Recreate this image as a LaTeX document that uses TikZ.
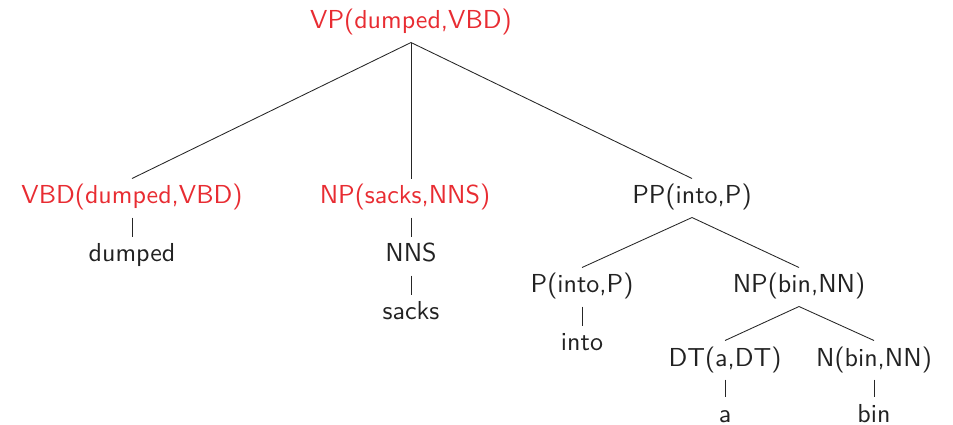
\documentclass[tikz,border=0pt]{standalone}
\definecolor{hd}{RGB}{232,44,50}
\definecolor{tx}{RGB}{34,34,34}
\begin{document}
\begin{tikzpicture}[x=0.3846pt,y=-0.3846pt,
  every node/.style={font=\fontsize{10}{12}\selectfont\sffamily, text=tx, anchor=base,
    text height=7.3pt, text depth=2.7pt, inner sep=2.3pt},
  head/.style={text=hd},
  edge/.style={draw=black!85, line width=0.33pt}]
\useasboundingbox (0,0) rectangle (953,425);
\node[head] (vp) at (411,29) {VP(dumped,VBD)};
\node[head] (vbd) at (132,204) {VBD(dumped,VBD)};
\node[head] (np) at (405,204) {NP(sacks,NNS)};
\node (pp) at (692,204) {PP(into,P)};
\node (dumped) at (132,262) {dumped};
\node (nns) at (411,262) {NNS};
\node (sacks) at (411,320) {sacks};
\node (p) at (582,293) {P(into,P)};
\node (npb) at (799,293) {NP(bin,NN)};
\node (into) at (582,351) {into};
\node (dt) at (725,366) {DT(a,DT)};
\node (n) at (874,366) {N(bin,NN)};
\node (a) at (725,422) {a};
\node (bin) at (874,422) {bin};
\draw[edge] (vp.south) -- (vbd.north);
\draw[edge] (vp.south) -- (vp.south |- np.north);
\draw[edge] (vp.south) -- (pp.north);
\draw[edge] (vbd.south) -- (dumped.north);
\draw[edge] (nns.north |- np.south) -- (nns.north);
\draw[edge] (nns.south) -- (sacks.north);
\draw[edge] (pp.south) -- (p.north);
\draw[edge] (pp.south) -- (npb.north);
\draw[edge] (p.south) -- (into.north);
\draw[edge] (npb.south) -- (dt.north);
\draw[edge] (npb.south) -- (n.north);
\draw[edge] (dt.south) -- (a.north);
\draw[edge] (n.south) -- (bin.north);
\end{tikzpicture}
\end{document}
